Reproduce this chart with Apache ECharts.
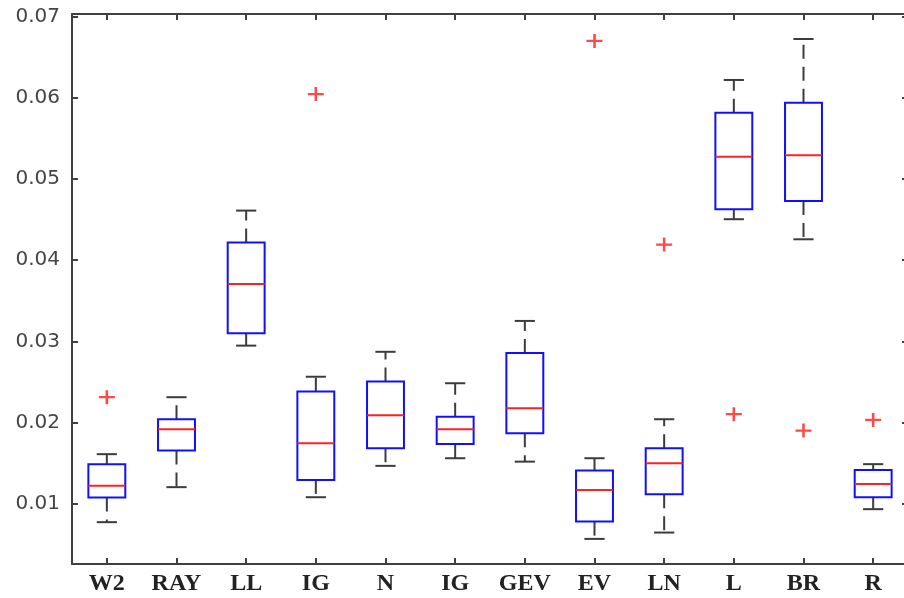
<!DOCTYPE html>
<html>
<head>
<meta charset="utf-8">
<title>Box plot</title>
<script src="https://cdn.jsdelivr.net/npm/echarts@6/dist/echarts.min.js"></script>
<style>
  html, body { margin: 0; padding: 0; background: #ffffff; overflow: hidden; }
  #chart { width: 904px; height: 598px; }
</style>
</head>
<body>
<div id="chart"></div>
<script>
// Distribution names along the x axis
const categories = ['W2', 'RAY', 'LL', 'IG', 'N', 'IG', 'GEV', 'EV', 'LN', 'L', 'BR', 'R'];

// Five-number summaries, one entry per category
const lowerWhisker = [0.00775, 0.01206, 0.02948, 0.01082, 0.01468, 0.01562, 0.01520, 0.00569, 0.00647, 0.04504, 0.04257, 0.00935];
const q1           = [0.01078, 0.01656, 0.03100, 0.01295, 0.01685, 0.01738, 0.01870, 0.00782, 0.01119, 0.04627, 0.04729, 0.01082];
const median       = [0.01222, 0.01919, 0.03707, 0.01747, 0.02092, 0.01919, 0.02178, 0.01172, 0.01501, 0.05274, 0.05291, 0.01246];
const q3           = [0.01489, 0.02042, 0.04216, 0.02382, 0.02505, 0.02074, 0.02858, 0.01410, 0.01685, 0.05815, 0.05939, 0.01418];
const upperWhisker = [0.01612, 0.02313, 0.04610, 0.02565, 0.02872, 0.02485, 0.03252, 0.01562, 0.02042, 0.06218, 0.06722, 0.01489];

// Outliers as [category index, value]
const outlierIndex = [0, 3, 7, 8, 9, 10, 11];
const outlierValue = [0.02313, 0.06044, 0.06698, 0.04192, 0.02104, 0.01902, 0.02034];

// Y axis tick values
const yTicks = [0.01, 0.02, 0.03, 0.04, 0.05, 0.06, 0.07];
const yMin = 0.0026;
const yMax = 0.0703;

const boxData = categories.map((c, i) => [i, lowerWhisker[i], q1[i], median[i], q3[i], upperWhisker[i]]);
const outlierData = outlierIndex.map((idx, k) => [idx, outlierValue[k]]);

const axisColor = '#404040';
const whiskerColor = '#3c3c3c';

function renderBox(params, api) {
  const x = api.value(0);
  const band = api.size([1, 0])[0];
  const boxW = band * 0.53;
  const capW = band * 0.29;
  const pLow = api.coord([x, api.value(1)]);
  const pQ1 = api.coord([x, api.value(2)]);
  const pMed = api.coord([x, api.value(3)]);
  const pQ3 = api.coord([x, api.value(4)]);
  const pHigh = api.coord([x, api.value(5)]);
  const cx = pMed[0];
  const whiskerStyle = { stroke: whiskerColor, lineWidth: 2, lineDash: [14, 8], fill: null };
  const capStyle = { stroke: whiskerColor, lineWidth: 2, fill: null };
  return {
    type: 'group',
    children: [
      { type: 'line', shape: { x1: cx, y1: pQ3[1], x2: cx, y2: pHigh[1] }, style: whiskerStyle },
      { type: 'line', shape: { x1: cx, y1: pQ1[1], x2: cx, y2: pLow[1] }, style: whiskerStyle },
      { type: 'line', shape: { x1: cx - capW / 2, y1: pHigh[1], x2: cx + capW / 2, y2: pHigh[1] }, style: capStyle },
      { type: 'line', shape: { x1: cx - capW / 2, y1: pLow[1], x2: cx + capW / 2, y2: pLow[1] }, style: capStyle },
      {
        type: 'rect',
        shape: { x: cx - boxW / 2, y: pQ3[1], width: boxW, height: pQ1[1] - pQ3[1] },
        style: { stroke: '#1010ff', lineWidth: 2, fill: '#ffffff' }
      },
      { type: 'line', shape: { x1: cx - boxW / 2, y1: pMed[1], x2: cx + boxW / 2, y2: pMed[1] }, style: { stroke: '#ff2020', lineWidth: 2 } }
    ]
  };
}

const chart = echarts.init(document.getElementById('chart'), null, { renderer: 'canvas' });

chart.setOption({
  backgroundColor: '#ffffff',
  animation: false,
  // plot frame runs slightly past the right edge of the canvas
  grid: { left: 72, right: -4, top: 14, bottom: 34, containLabel: false, outerBoundsMode: 'none' },
  xAxis: [
    {
      type: 'category',
      data: categories,
      position: 'bottom',
      boundaryGap: true,
      axisLine: { show: true, lineStyle: { color: axisColor, width: 2 } },
      axisTick: { show: true, inside: true, alignWithLabel: true, length: 6, lineStyle: { color: axisColor, width: 2 } },
      axisLabel: {
        margin: 8,
        color: '#222222',
        fontFamily: 'Liberation Serif',
        fontWeight: 'bold',
        fontSize: 24,
        interval: 0
      },
      splitLine: { show: false }
    },
    {
      type: 'category',
      data: categories,
      position: 'top',
      boundaryGap: true,
      axisLine: { show: true, lineStyle: { color: axisColor, width: 2 } },
      axisTick: { show: true, inside: true, alignWithLabel: true, length: 6, lineStyle: { color: axisColor, width: 2 } },
      axisLabel: { show: false },
      splitLine: { show: false }
    }
  ],
  yAxis: [
    {
      type: 'value',
      min: yMin,
      max: yMax,
      position: 'left',
      axisLine: { show: true, lineStyle: { color: axisColor, width: 2 } },
      axisTick: { show: true, inside: true, length: 6, customValues: yTicks, lineStyle: { color: axisColor, width: 2 } },
      axisLabel: {
        customValues: yTicks,
        formatter: v => v.toFixed(2),
        margin: 12,
        color: '#454545',
        fontFamily: 'DejaVu Sans',
        fontSize: 20
      },
      splitLine: { show: false }
    },
    {
      type: 'value',
      min: yMin,
      max: yMax,
      position: 'right',
      axisLine: { show: true, lineStyle: { color: axisColor, width: 2 } },
      axisTick: { show: true, inside: true, length: 6, customValues: yTicks, lineStyle: { color: axisColor, width: 2 } },
      axisLabel: { show: false },
      splitLine: { show: false }
    }
  ],
  series: [
    {
      type: 'custom',
      name: 'box',
      xAxisIndex: 0,
      yAxisIndex: 0,
      renderItem: renderBox,
      encode: { x: 0, y: [1, 2, 3, 4, 5] },
      data: boxData,
      z: 2
    },
    {
      type: 'scatter',
      name: 'outliers',
      xAxisIndex: 0,
      yAxisIndex: 0,
      symbol: 'path://M0,4.2H10V5.8H0Z M4.2,0H5.8V10H4.2Z',
      symbolSize: [16, 14],
      itemStyle: { color: '#ff1a1a' },
      data: outlierData,
      z: 3
    }
  ]
});
</script>
</body>
</html>
